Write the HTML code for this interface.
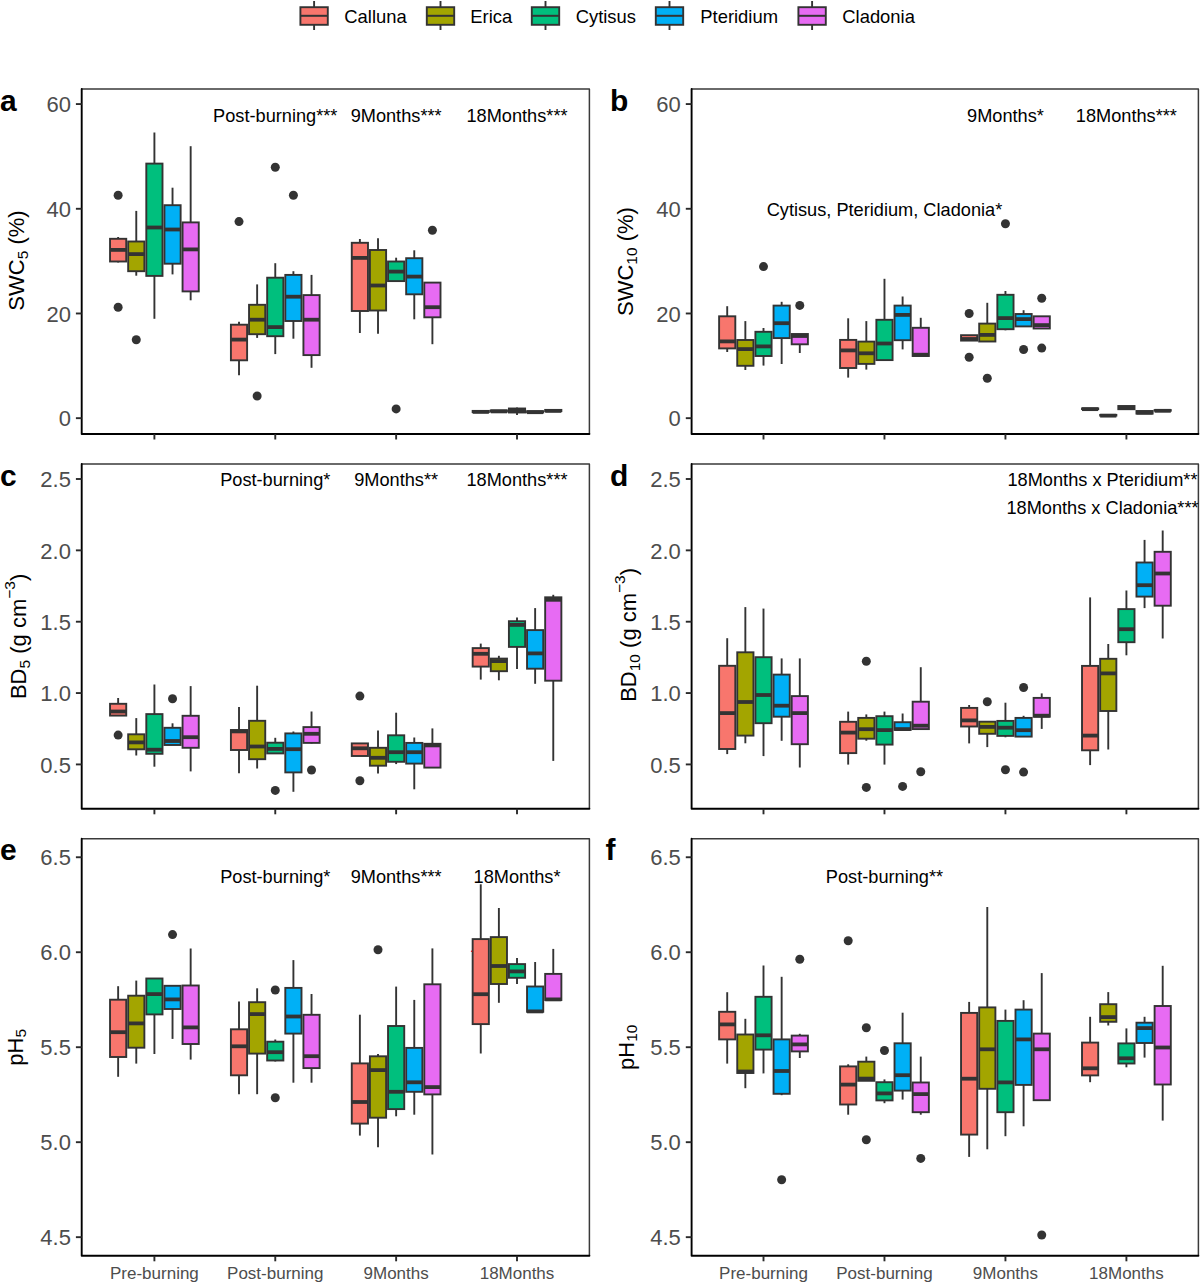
<!DOCTYPE html>
<html><head><meta charset="utf-8"><style>html,body{margin:0;padding:0;background:#fff;width:1200px;height:1284px;overflow:hidden}svg{display:block}</style></head><body>
<svg width="1200" height="1284" viewBox="0 0 1200 1284">
<style>
.wk{stroke:#333;stroke-width:1.9}
.bx{stroke:#333;stroke-width:1.9}
.md{stroke:#333;stroke-width:3.8}
.bt{stroke:#3a3a3a;stroke-width:1.5;fill:none;stroke-linejoin:round}
.ax{stroke:#000;stroke-width:1.9;fill:none;stroke-linecap:round;stroke-linejoin:round}
.tk{stroke:#2a2a2a;stroke-width:1.9}
text{font-family:"Liberation Sans",sans-serif}
.yt{font-size:22px;fill:#4d4d4d;text-anchor:end}
.xt{font-size:17px;fill:#4d4d4d;text-anchor:middle}
.pl{font-size:30px;font-weight:bold;fill:#000}
.yl{font-size:22px;fill:#000;text-anchor:middle}
.an{font-size:18.2px;fill:#000;text-anchor:middle}
.lg{font-size:18.4px;fill:#000}
</style>
<rect width="1200" height="1284" fill="#fff"/>
<line x1="118.14" y1="237" x2="118.14" y2="238.8" class="wk"/>
<line x1="118.14" y1="261.5" x2="118.14" y2="262.5" class="wk"/>
<rect x="110.04" y="238.8" width="16.2" height="22.7" fill="#F8766D" class="bx"/>
<line x1="110.04" y1="249.9" x2="126.24" y2="249.9" class="md"/>
<circle cx="118.14" cy="195.2" r="4.5" fill="#333333"/>
<circle cx="118.14" cy="307.3" r="4.5" fill="#333333"/>
<line x1="136.27" y1="210.9" x2="136.27" y2="241.5" class="wk"/>
<line x1="136.27" y1="271.2" x2="136.27" y2="275.7" class="wk"/>
<rect x="128.17" y="241.5" width="16.2" height="29.7" fill="#A3A500" class="bx"/>
<line x1="128.17" y1="254.1" x2="144.37" y2="254.1" class="md"/>
<circle cx="136.27" cy="339.7" r="4.5" fill="#333333"/>
<line x1="154.4" y1="132.5" x2="154.4" y2="163.6" class="wk"/>
<line x1="154.4" y1="275.9" x2="154.4" y2="318.8" class="wk"/>
<rect x="146.3" y="163.6" width="16.2" height="112.3" fill="#00BF7D" class="bx"/>
<line x1="146.3" y1="227.5" x2="162.5" y2="227.5" class="md"/>
<line x1="172.53" y1="187.7" x2="172.53" y2="205.2" class="wk"/>
<line x1="172.53" y1="263.7" x2="172.53" y2="274.4" class="wk"/>
<rect x="164.43" y="205.2" width="16.2" height="58.5" fill="#00B0F6" class="bx"/>
<line x1="164.43" y1="229.5" x2="180.63" y2="229.5" class="md"/>
<line x1="190.66" y1="146.2" x2="190.66" y2="222.4" class="wk"/>
<line x1="190.66" y1="291.4" x2="190.66" y2="300.3" class="wk"/>
<rect x="182.56" y="222.4" width="16.2" height="69" fill="#E76BF3" class="bx"/>
<line x1="182.56" y1="249.4" x2="198.76" y2="249.4" class="md"/>
<line x1="239.01" y1="321.7" x2="239.01" y2="324.7" class="wk"/>
<line x1="239.01" y1="360.3" x2="239.01" y2="375.3" class="wk"/>
<rect x="230.91" y="324.7" width="16.2" height="35.6" fill="#F8766D" class="bx"/>
<line x1="230.91" y1="339.6" x2="247.11" y2="339.6" class="md"/>
<circle cx="239.01" cy="221.6" r="4.5" fill="#333333"/>
<line x1="257.14" y1="284.4" x2="257.14" y2="304.8" class="wk"/>
<line x1="257.14" y1="334.2" x2="257.14" y2="337.9" class="wk"/>
<rect x="249.04" y="304.8" width="16.2" height="29.4" fill="#A3A500" class="bx"/>
<line x1="249.04" y1="319.7" x2="265.24" y2="319.7" class="md"/>
<circle cx="257.14" cy="396" r="4.5" fill="#333333"/>
<line x1="275.27" y1="263.2" x2="275.27" y2="277.7" class="wk"/>
<line x1="275.27" y1="336.2" x2="275.27" y2="354.1" class="wk"/>
<rect x="267.17" y="277.7" width="16.2" height="58.5" fill="#00BF7D" class="bx"/>
<line x1="267.17" y1="327.1" x2="283.37" y2="327.1" class="md"/>
<circle cx="275.27" cy="167.3" r="4.5" fill="#333333"/>
<line x1="293.4" y1="271.2" x2="293.4" y2="274.9" class="wk"/>
<line x1="293.4" y1="321" x2="293.4" y2="338.7" class="wk"/>
<rect x="285.3" y="274.9" width="16.2" height="46.1" fill="#00B0F6" class="bx"/>
<line x1="285.3" y1="296.7" x2="301.5" y2="296.7" class="md"/>
<circle cx="293.4" cy="195.2" r="4.5" fill="#333333"/>
<line x1="311.53" y1="274.9" x2="311.53" y2="295.1" class="wk"/>
<line x1="311.53" y1="355.1" x2="311.53" y2="367.8" class="wk"/>
<rect x="303.43" y="295.1" width="16.2" height="60" fill="#E76BF3" class="bx"/>
<line x1="303.43" y1="319.7" x2="319.63" y2="319.7" class="md"/>
<line x1="359.88" y1="239" x2="359.88" y2="242.8" class="wk"/>
<line x1="359.88" y1="311" x2="359.88" y2="333" class="wk"/>
<rect x="351.78" y="242.8" width="16.2" height="68.2" fill="#F8766D" class="bx"/>
<line x1="351.78" y1="257.9" x2="367.98" y2="257.9" class="md"/>
<line x1="378.01" y1="238.3" x2="378.01" y2="250" class="wk"/>
<line x1="378.01" y1="310.5" x2="378.01" y2="333.7" class="wk"/>
<rect x="369.91" y="250" width="16.2" height="60.5" fill="#A3A500" class="bx"/>
<line x1="369.91" y1="285.5" x2="386.11" y2="285.5" class="md"/>
<line x1="396.14" y1="257.7" x2="396.14" y2="261.5" class="wk"/>
<line x1="396.14" y1="281.1" x2="396.14" y2="281.9" class="wk"/>
<rect x="388.04" y="261.5" width="16.2" height="19.6" fill="#00BF7D" class="bx"/>
<line x1="388.04" y1="271.6" x2="404.24" y2="271.6" class="md"/>
<circle cx="396.14" cy="408.9" r="4.5" fill="#333333"/>
<line x1="414.27" y1="250.3" x2="414.27" y2="258.2" class="wk"/>
<line x1="414.27" y1="294.3" x2="414.27" y2="319.3" class="wk"/>
<rect x="406.17" y="258.2" width="16.2" height="36.1" fill="#00B0F6" class="bx"/>
<line x1="406.17" y1="276.6" x2="422.37" y2="276.6" class="md"/>
<line x1="432.4" y1="317.3" x2="432.4" y2="344.2" class="wk"/>
<rect x="424.3" y="282.6" width="16.2" height="34.7" fill="#E76BF3" class="bx"/>
<line x1="424.3" y1="307.2" x2="440.5" y2="307.2" class="md"/>
<circle cx="432.4" cy="230.3" r="4.5" fill="#333333"/>
<line x1="480.75" y1="410.5" x2="480.75" y2="410.9" class="wk"/>
<line x1="480.75" y1="412.1" x2="480.75" y2="412.5" class="wk"/>
<rect x="472.65" y="410.9" width="16.2" height="1.2" fill="#F8766D" class="bx"/>
<line x1="472.65" y1="411.9" x2="488.85" y2="411.9" class="md"/>
<line x1="498.88" y1="410" x2="498.88" y2="410.4" class="wk"/>
<line x1="498.88" y1="411.6" x2="498.88" y2="412" class="wk"/>
<rect x="490.78" y="410.4" width="16.2" height="1.2" fill="#A3A500" class="bx"/>
<line x1="490.78" y1="411.4" x2="506.98" y2="411.4" class="md"/>
<line x1="517.01" y1="407.5" x2="517.01" y2="408.5" class="wk"/>
<line x1="517.01" y1="412.5" x2="517.01" y2="415" class="wk"/>
<rect x="508.91" y="408.5" width="16.2" height="4" fill="#00BF7D" class="bx"/>
<line x1="508.91" y1="410.4" x2="525.11" y2="410.4" class="md"/>
<line x1="535.14" y1="411" x2="535.14" y2="411.2" class="wk"/>
<line x1="535.14" y1="412.4" x2="535.14" y2="412.6" class="wk"/>
<rect x="527.04" y="411.2" width="16.2" height="1.2" fill="#00B0F6" class="bx"/>
<line x1="527.04" y1="412.2" x2="543.24" y2="412.2" class="md"/>
<line x1="553.27" y1="409.5" x2="553.27" y2="409.9" class="wk"/>
<line x1="553.27" y1="411.1" x2="553.27" y2="411.5" class="wk"/>
<rect x="545.17" y="409.9" width="16.2" height="1.2" fill="#E76BF3" class="bx"/>
<line x1="545.17" y1="410.9" x2="561.37" y2="410.9" class="md"/>
<path d="M81.7 89H589.4V434" class="bt"/>
<path d="M81.7 89V434H589.4" class="ax"/>
<line x1="75.9" y1="418.17" x2="81.7" y2="418.17" class="tk"/>
<text x="70.9" y="426.37" class="yt">0</text>
<line x1="75.9" y1="313.47" x2="81.7" y2="313.47" class="tk"/>
<text x="70.9" y="321.67" class="yt">20</text>
<line x1="75.9" y1="208.78" x2="81.7" y2="208.78" class="tk"/>
<text x="70.9" y="216.98" class="yt">40</text>
<line x1="75.9" y1="104.08" x2="81.7" y2="104.08" class="tk"/>
<text x="70.9" y="112.28" class="yt">60</text>
<line x1="154.4" y1="434" x2="154.4" y2="439.5" class="tk"/>
<line x1="275.27" y1="434" x2="275.27" y2="439.5" class="tk"/>
<line x1="396.14" y1="434" x2="396.14" y2="439.5" class="tk"/>
<line x1="517.01" y1="434" x2="517.01" y2="439.5" class="tk"/>
<text x="0" y="110.5" class="pl">a</text>
<text transform="translate(24 260.5) rotate(-90)" class="yl">SWC<tspan font-size="15.5" dy="3.5">5</tspan><tspan dy="-3.5"> </tspan>(%)</text>
<text x="275.27" y="121.7" class="an">Post-burning***</text>
<text x="396.14" y="121.7" class="an">9Months***</text>
<text x="517.01" y="121.7" class="an">18Months***</text>
<line x1="727.21" y1="306.2" x2="727.21" y2="316.3" class="wk"/>
<line x1="727.21" y1="348.4" x2="727.21" y2="352" class="wk"/>
<rect x="719.11" y="316.3" width="16.2" height="32.1" fill="#F8766D" class="bx"/>
<line x1="719.11" y1="341.4" x2="735.31" y2="341.4" class="md"/>
<line x1="745.35" y1="321.1" x2="745.35" y2="340" class="wk"/>
<line x1="745.35" y1="365.8" x2="745.35" y2="370" class="wk"/>
<rect x="737.25" y="340" width="16.2" height="25.8" fill="#A3A500" class="bx"/>
<line x1="737.25" y1="349.1" x2="753.45" y2="349.1" class="md"/>
<line x1="763.5" y1="328" x2="763.5" y2="331.8" class="wk"/>
<line x1="763.5" y1="356" x2="763.5" y2="365.6" class="wk"/>
<rect x="755.4" y="331.8" width="16.2" height="24.2" fill="#00BF7D" class="bx"/>
<line x1="755.4" y1="346.4" x2="771.6" y2="346.4" class="md"/>
<circle cx="763.5" cy="266.6" r="4.5" fill="#333333"/>
<line x1="781.65" y1="301.8" x2="781.65" y2="305.6" class="wk"/>
<line x1="781.65" y1="338.1" x2="781.65" y2="364" class="wk"/>
<rect x="773.55" y="305.6" width="16.2" height="32.5" fill="#00B0F6" class="bx"/>
<line x1="773.55" y1="323.2" x2="789.75" y2="323.2" class="md"/>
<line x1="799.79" y1="344.3" x2="799.79" y2="353" class="wk"/>
<rect x="791.69" y="334" width="16.2" height="10.3" fill="#E76BF3" class="bx"/>
<line x1="791.69" y1="336" x2="807.89" y2="336" class="md"/>
<circle cx="799.79" cy="305.4" r="4.5" fill="#333333"/>
<line x1="848.18" y1="318.3" x2="848.18" y2="339.9" class="wk"/>
<line x1="848.18" y1="368" x2="848.18" y2="377.6" class="wk"/>
<rect x="840.08" y="339.9" width="16.2" height="28.1" fill="#F8766D" class="bx"/>
<line x1="840.08" y1="350.4" x2="856.28" y2="350.4" class="md"/>
<line x1="866.32" y1="321.1" x2="866.32" y2="341.6" class="wk"/>
<line x1="866.32" y1="363.9" x2="866.32" y2="369.6" class="wk"/>
<rect x="858.22" y="341.6" width="16.2" height="22.3" fill="#A3A500" class="bx"/>
<line x1="858.22" y1="353.3" x2="874.42" y2="353.3" class="md"/>
<line x1="884.47" y1="278.8" x2="884.47" y2="319.8" class="wk"/>
<line x1="884.47" y1="360.1" x2="884.47" y2="360.9" class="wk"/>
<rect x="876.37" y="319.8" width="16.2" height="40.3" fill="#00BF7D" class="bx"/>
<line x1="876.37" y1="343.5" x2="892.57" y2="343.5" class="md"/>
<line x1="902.62" y1="296.5" x2="902.62" y2="305.6" class="wk"/>
<line x1="902.62" y1="340.2" x2="902.62" y2="349.4" class="wk"/>
<rect x="894.52" y="305.6" width="16.2" height="34.6" fill="#00B0F6" class="bx"/>
<line x1="894.52" y1="314.9" x2="910.72" y2="314.9" class="md"/>
<line x1="920.76" y1="317.8" x2="920.76" y2="327.8" class="wk"/>
<rect x="912.66" y="327.8" width="16.2" height="28.2" fill="#E76BF3" class="bx"/>
<line x1="912.66" y1="354.7" x2="928.86" y2="354.7" class="md"/>
<rect x="961.05" y="335.2" width="16.2" height="5.4" fill="#F8766D" class="bx"/>
<line x1="961.05" y1="339" x2="977.25" y2="339" class="md"/>
<circle cx="969.15" cy="313.5" r="4.5" fill="#333333"/>
<circle cx="969.15" cy="357.2" r="4.5" fill="#333333"/>
<line x1="987.29" y1="302.8" x2="987.29" y2="323.6" class="wk"/>
<rect x="979.19" y="323.6" width="16.2" height="17.9" fill="#A3A500" class="bx"/>
<line x1="979.19" y1="334.9" x2="995.39" y2="334.9" class="md"/>
<circle cx="987.29" cy="378.2" r="4.5" fill="#333333"/>
<line x1="1005.44" y1="291" x2="1005.44" y2="294.8" class="wk"/>
<line x1="1005.44" y1="329.2" x2="1005.44" y2="330.3" class="wk"/>
<rect x="997.34" y="294.8" width="16.2" height="34.4" fill="#00BF7D" class="bx"/>
<line x1="997.34" y1="318.1" x2="1013.54" y2="318.1" class="md"/>
<circle cx="1005.44" cy="223.7" r="4.5" fill="#333333"/>
<line x1="1023.59" y1="310.2" x2="1023.59" y2="314" class="wk"/>
<rect x="1015.49" y="314" width="16.2" height="12.4" fill="#00B0F6" class="bx"/>
<line x1="1015.49" y1="319.1" x2="1031.69" y2="319.1" class="md"/>
<circle cx="1023.59" cy="349.5" r="4.5" fill="#333333"/>
<rect x="1033.63" y="316.3" width="16.2" height="12.2" fill="#E76BF3" class="bx"/>
<line x1="1033.63" y1="325.1" x2="1049.83" y2="325.1" class="md"/>
<circle cx="1041.73" cy="298.3" r="4.5" fill="#333333"/>
<circle cx="1041.73" cy="348.1" r="4.5" fill="#333333"/>
<line x1="1090.12" y1="408.2" x2="1090.12" y2="408.4" class="wk"/>
<line x1="1090.12" y1="409.1" x2="1090.12" y2="409.3" class="wk"/>
<rect x="1082.02" y="408.4" width="16.2" height="0.7" fill="#F8766D" class="bx"/>
<line x1="1082.02" y1="409.15" x2="1098.22" y2="409.15" class="md"/>
<line x1="1108.26" y1="414.7" x2="1108.26" y2="414.9" class="wk"/>
<line x1="1108.26" y1="415.6" x2="1108.26" y2="415.8" class="wk"/>
<rect x="1100.16" y="414.9" width="16.2" height="0.7" fill="#A3A500" class="bx"/>
<line x1="1100.16" y1="415.65" x2="1116.36" y2="415.65" class="md"/>
<line x1="1126.41" y1="405.8" x2="1126.41" y2="406" class="wk"/>
<line x1="1126.41" y1="409.2" x2="1126.41" y2="410" class="wk"/>
<rect x="1118.31" y="406" width="16.2" height="3.2" fill="#00BF7D" class="bx"/>
<line x1="1118.31" y1="407.9" x2="1134.51" y2="407.9" class="md"/>
<line x1="1144.56" y1="413.6" x2="1144.56" y2="414" class="wk"/>
<rect x="1136.46" y="411" width="16.2" height="2.6" fill="#00B0F6" class="bx"/>
<line x1="1136.46" y1="412.7" x2="1152.66" y2="412.7" class="md"/>
<line x1="1162.7" y1="409.9" x2="1162.7" y2="410.1" class="wk"/>
<line x1="1162.7" y1="410.7" x2="1162.7" y2="410.9" class="wk"/>
<rect x="1154.6" y="410.1" width="16.2" height="0.6" fill="#E76BF3" class="bx"/>
<line x1="1154.6" y1="410.8" x2="1170.8" y2="410.8" class="md"/>
<path d="M691.6 89H1198.4V434" class="bt"/>
<path d="M691.6 89V434H1198.4" class="ax"/>
<line x1="685.8" y1="418.17" x2="691.6" y2="418.17" class="tk"/>
<text x="680.8" y="426.37" class="yt">0</text>
<line x1="685.8" y1="313.47" x2="691.6" y2="313.47" class="tk"/>
<text x="680.8" y="321.67" class="yt">20</text>
<line x1="685.8" y1="208.78" x2="691.6" y2="208.78" class="tk"/>
<text x="680.8" y="216.98" class="yt">40</text>
<line x1="685.8" y1="104.08" x2="691.6" y2="104.08" class="tk"/>
<text x="680.8" y="112.28" class="yt">60</text>
<line x1="763.5" y1="434" x2="763.5" y2="439.5" class="tk"/>
<line x1="884.47" y1="434" x2="884.47" y2="439.5" class="tk"/>
<line x1="1005.44" y1="434" x2="1005.44" y2="439.5" class="tk"/>
<line x1="1126.41" y1="434" x2="1126.41" y2="439.5" class="tk"/>
<text x="610" y="110.5" class="pl">b</text>
<text transform="translate(633 261.5) rotate(-90)" class="yl">SWC<tspan font-size="15.5" dy="3.5">10</tspan><tspan dy="-3.5"> </tspan>(%)</text>
<text x="1005.44" y="121.7" class="an">9Months*</text>
<text x="1126.41" y="121.7" class="an">18Months***</text>
<text x="884.47" y="215.5" class="an">Cytisus, Pteridium, Cladonia*</text>
<line x1="118.14" y1="698" x2="118.14" y2="703.8" class="wk"/>
<rect x="110.04" y="703.8" width="16.2" height="11.8" fill="#F8766D" class="bx"/>
<line x1="110.04" y1="711.5" x2="126.24" y2="711.5" class="md"/>
<circle cx="118.14" cy="735.1" r="4.5" fill="#333333"/>
<line x1="136.27" y1="718.1" x2="136.27" y2="734.3" class="wk"/>
<line x1="136.27" y1="749.3" x2="136.27" y2="755.5" class="wk"/>
<rect x="128.17" y="734.3" width="16.2" height="15" fill="#A3A500" class="bx"/>
<line x1="128.17" y1="742.4" x2="144.37" y2="742.4" class="md"/>
<line x1="154.4" y1="684.5" x2="154.4" y2="714.1" class="wk"/>
<line x1="154.4" y1="753.8" x2="154.4" y2="766.7" class="wk"/>
<rect x="146.3" y="714.1" width="16.2" height="39.7" fill="#00BF7D" class="bx"/>
<line x1="146.3" y1="749.7" x2="162.5" y2="749.7" class="md"/>
<line x1="172.53" y1="723.3" x2="172.53" y2="727.8" class="wk"/>
<rect x="164.43" y="727.8" width="16.2" height="17.2" fill="#00B0F6" class="bx"/>
<line x1="164.43" y1="741" x2="180.63" y2="741" class="md"/>
<circle cx="172.53" cy="698.8" r="4.5" fill="#333333"/>
<line x1="190.66" y1="686.1" x2="190.66" y2="715.8" class="wk"/>
<line x1="190.66" y1="747.8" x2="190.66" y2="771.4" class="wk"/>
<rect x="182.56" y="715.8" width="16.2" height="32" fill="#E76BF3" class="bx"/>
<line x1="182.56" y1="737.2" x2="198.76" y2="737.2" class="md"/>
<line x1="239.01" y1="707.1" x2="239.01" y2="730" class="wk"/>
<line x1="239.01" y1="750" x2="239.01" y2="773.3" class="wk"/>
<rect x="230.91" y="730" width="16.2" height="20" fill="#F8766D" class="bx"/>
<line x1="230.91" y1="731.4" x2="247.11" y2="731.4" class="md"/>
<line x1="257.14" y1="685.7" x2="257.14" y2="720.8" class="wk"/>
<line x1="257.14" y1="759.2" x2="257.14" y2="768.5" class="wk"/>
<rect x="249.04" y="720.8" width="16.2" height="38.4" fill="#A3A500" class="bx"/>
<line x1="249.04" y1="746.5" x2="265.24" y2="746.5" class="md"/>
<line x1="275.27" y1="737.8" x2="275.27" y2="742.7" class="wk"/>
<rect x="267.17" y="742.7" width="16.2" height="10.7" fill="#00BF7D" class="bx"/>
<line x1="267.17" y1="748.9" x2="283.37" y2="748.9" class="md"/>
<circle cx="275.27" cy="790.4" r="4.5" fill="#333333"/>
<line x1="293.4" y1="731.5" x2="293.4" y2="733.4" class="wk"/>
<line x1="293.4" y1="772.4" x2="293.4" y2="791.8" class="wk"/>
<rect x="285.3" y="733.4" width="16.2" height="39" fill="#00B0F6" class="bx"/>
<line x1="285.3" y1="749.2" x2="301.5" y2="749.2" class="md"/>
<line x1="311.53" y1="711.5" x2="311.53" y2="727.1" class="wk"/>
<line x1="311.53" y1="742.9" x2="311.53" y2="743.5" class="wk"/>
<rect x="303.43" y="727.1" width="16.2" height="15.8" fill="#E76BF3" class="bx"/>
<line x1="303.43" y1="733.8" x2="319.63" y2="733.8" class="md"/>
<circle cx="311.53" cy="770" r="4.5" fill="#333333"/>
<rect x="351.78" y="743.4" width="16.2" height="12.6" fill="#F8766D" class="bx"/>
<line x1="351.78" y1="748.3" x2="367.98" y2="748.3" class="md"/>
<circle cx="359.88" cy="696.1" r="4.5" fill="#333333"/>
<circle cx="359.88" cy="780.7" r="4.5" fill="#333333"/>
<line x1="378.01" y1="730.5" x2="378.01" y2="747.8" class="wk"/>
<line x1="378.01" y1="765.7" x2="378.01" y2="773.5" class="wk"/>
<rect x="369.91" y="747.8" width="16.2" height="17.9" fill="#A3A500" class="bx"/>
<line x1="369.91" y1="757.8" x2="386.11" y2="757.8" class="md"/>
<line x1="396.14" y1="712.7" x2="396.14" y2="735.3" class="wk"/>
<line x1="396.14" y1="761.8" x2="396.14" y2="764.1" class="wk"/>
<rect x="388.04" y="735.3" width="16.2" height="26.5" fill="#00BF7D" class="bx"/>
<line x1="388.04" y1="752.2" x2="404.24" y2="752.2" class="md"/>
<line x1="414.27" y1="737.5" x2="414.27" y2="742.9" class="wk"/>
<line x1="414.27" y1="763.6" x2="414.27" y2="789.3" class="wk"/>
<rect x="406.17" y="742.9" width="16.2" height="20.7" fill="#00B0F6" class="bx"/>
<line x1="406.17" y1="752.2" x2="422.37" y2="752.2" class="md"/>
<line x1="432.4" y1="728.4" x2="432.4" y2="743.8" class="wk"/>
<rect x="424.3" y="743.8" width="16.2" height="23.8" fill="#E76BF3" class="bx"/>
<line x1="424.3" y1="745.4" x2="440.5" y2="745.4" class="md"/>
<line x1="480.75" y1="643.6" x2="480.75" y2="648.1" class="wk"/>
<line x1="480.75" y1="666.6" x2="480.75" y2="679.6" class="wk"/>
<rect x="472.65" y="648.1" width="16.2" height="18.5" fill="#F8766D" class="bx"/>
<line x1="472.65" y1="653.8" x2="488.85" y2="653.8" class="md"/>
<line x1="498.88" y1="655.8" x2="498.88" y2="658.6" class="wk"/>
<line x1="498.88" y1="671.2" x2="498.88" y2="680.3" class="wk"/>
<rect x="490.78" y="658.6" width="16.2" height="12.6" fill="#A3A500" class="bx"/>
<line x1="490.78" y1="661.1" x2="506.98" y2="661.1" class="md"/>
<line x1="517.01" y1="617.5" x2="517.01" y2="621.2" class="wk"/>
<line x1="517.01" y1="646.9" x2="517.01" y2="669.1" class="wk"/>
<rect x="508.91" y="621.2" width="16.2" height="25.7" fill="#00BF7D" class="bx"/>
<line x1="508.91" y1="624.9" x2="525.11" y2="624.9" class="md"/>
<line x1="535.14" y1="608.1" x2="535.14" y2="630.1" class="wk"/>
<line x1="535.14" y1="668.7" x2="535.14" y2="683.8" class="wk"/>
<rect x="527.04" y="630.1" width="16.2" height="38.6" fill="#00B0F6" class="bx"/>
<line x1="527.04" y1="653.4" x2="543.24" y2="653.4" class="md"/>
<line x1="553.27" y1="594.8" x2="553.27" y2="597.3" class="wk"/>
<line x1="553.27" y1="680.7" x2="553.27" y2="760.9" class="wk"/>
<rect x="545.17" y="597.3" width="16.2" height="83.4" fill="#E76BF3" class="bx"/>
<line x1="545.17" y1="599.8" x2="561.37" y2="599.8" class="md"/>
<path d="M81.7 464H589.4V808.8" class="bt"/>
<path d="M81.7 464V808.8H589.4" class="ax"/>
<line x1="75.9" y1="764.42" x2="81.7" y2="764.42" class="tk"/>
<text x="70.9" y="772.62" class="yt">0.5</text>
<line x1="75.9" y1="693.07" x2="81.7" y2="693.07" class="tk"/>
<text x="70.9" y="701.27" class="yt">1.0</text>
<line x1="75.9" y1="621.71" x2="81.7" y2="621.71" class="tk"/>
<text x="70.9" y="629.91" class="yt">1.5</text>
<line x1="75.9" y1="550.36" x2="81.7" y2="550.36" class="tk"/>
<text x="70.9" y="558.56" class="yt">2.0</text>
<line x1="75.9" y1="479" x2="81.7" y2="479" class="tk"/>
<text x="70.9" y="487.2" class="yt">2.5</text>
<line x1="154.4" y1="808.8" x2="154.4" y2="814.3" class="tk"/>
<line x1="275.27" y1="808.8" x2="275.27" y2="814.3" class="tk"/>
<line x1="396.14" y1="808.8" x2="396.14" y2="814.3" class="tk"/>
<line x1="517.01" y1="808.8" x2="517.01" y2="814.3" class="tk"/>
<text x="0" y="485.5" class="pl">c</text>
<text transform="translate(26 636.4) rotate(-90)" class="yl">BD<tspan font-size="15.5" dy="3.5">5</tspan><tspan dy="-3.5"> </tspan>(g cm<tspan font-size="15.5" dy="-11">−3</tspan><tspan dy="11">)</tspan></text>
<text x="275.27" y="486" class="an">Post-burning*</text>
<text x="396.14" y="486" class="an">9Months**</text>
<text x="517.01" y="486" class="an">18Months***</text>
<line x1="727.21" y1="638.2" x2="727.21" y2="665.8" class="wk"/>
<line x1="727.21" y1="749" x2="727.21" y2="754.1" class="wk"/>
<rect x="719.11" y="665.8" width="16.2" height="83.2" fill="#F8766D" class="bx"/>
<line x1="719.11" y1="713.1" x2="735.31" y2="713.1" class="md"/>
<line x1="745.35" y1="607.1" x2="745.35" y2="652.3" class="wk"/>
<line x1="745.35" y1="735.6" x2="745.35" y2="743.3" class="wk"/>
<rect x="737.25" y="652.3" width="16.2" height="83.3" fill="#A3A500" class="bx"/>
<line x1="737.25" y1="702" x2="753.45" y2="702" class="md"/>
<line x1="763.5" y1="608.6" x2="763.5" y2="657.2" class="wk"/>
<line x1="763.5" y1="723.2" x2="763.5" y2="756.1" class="wk"/>
<rect x="755.4" y="657.2" width="16.2" height="66" fill="#00BF7D" class="bx"/>
<line x1="755.4" y1="695" x2="771.6" y2="695" class="md"/>
<line x1="781.65" y1="658.4" x2="781.65" y2="674.6" class="wk"/>
<line x1="781.65" y1="716.7" x2="781.65" y2="740.8" class="wk"/>
<rect x="773.55" y="674.6" width="16.2" height="42.1" fill="#00B0F6" class="bx"/>
<line x1="773.55" y1="705.7" x2="789.75" y2="705.7" class="md"/>
<line x1="799.79" y1="658.4" x2="799.79" y2="696.1" class="wk"/>
<line x1="799.79" y1="744.2" x2="799.79" y2="767.5" class="wk"/>
<rect x="791.69" y="696.1" width="16.2" height="48.1" fill="#E76BF3" class="bx"/>
<line x1="791.69" y1="713.1" x2="807.89" y2="713.1" class="md"/>
<line x1="848.18" y1="711.6" x2="848.18" y2="721.8" class="wk"/>
<line x1="848.18" y1="753.1" x2="848.18" y2="764.6" class="wk"/>
<rect x="840.08" y="721.8" width="16.2" height="31.3" fill="#F8766D" class="bx"/>
<line x1="840.08" y1="732.6" x2="856.28" y2="732.6" class="md"/>
<line x1="866.32" y1="714.4" x2="866.32" y2="717.9" class="wk"/>
<line x1="866.32" y1="738.7" x2="866.32" y2="740.7" class="wk"/>
<rect x="858.22" y="717.9" width="16.2" height="20.8" fill="#A3A500" class="bx"/>
<line x1="858.22" y1="729.2" x2="874.42" y2="729.2" class="md"/>
<circle cx="866.32" cy="661.2" r="4.5" fill="#333333"/>
<circle cx="866.32" cy="787.4" r="4.5" fill="#333333"/>
<line x1="884.47" y1="711.6" x2="884.47" y2="716.2" class="wk"/>
<line x1="884.47" y1="744.6" x2="884.47" y2="764.6" class="wk"/>
<rect x="876.37" y="716.2" width="16.2" height="28.4" fill="#00BF7D" class="bx"/>
<line x1="876.37" y1="730.1" x2="892.57" y2="730.1" class="md"/>
<line x1="902.62" y1="713.5" x2="902.62" y2="722.2" class="wk"/>
<rect x="894.52" y="722.2" width="16.2" height="7.7" fill="#00B0F6" class="bx"/>
<line x1="894.52" y1="729.1" x2="910.72" y2="729.1" class="md"/>
<circle cx="902.62" cy="786.4" r="4.5" fill="#333333"/>
<line x1="920.76" y1="667.2" x2="920.76" y2="701.7" class="wk"/>
<rect x="912.66" y="701.7" width="16.2" height="27.4" fill="#E76BF3" class="bx"/>
<line x1="912.66" y1="725.7" x2="928.86" y2="725.7" class="md"/>
<circle cx="920.76" cy="771.8" r="4.5" fill="#333333"/>
<line x1="969.15" y1="705" x2="969.15" y2="707.9" class="wk"/>
<line x1="969.15" y1="726.5" x2="969.15" y2="743.4" class="wk"/>
<rect x="961.05" y="707.9" width="16.2" height="18.6" fill="#F8766D" class="bx"/>
<line x1="961.05" y1="720.4" x2="977.25" y2="720.4" class="md"/>
<line x1="987.29" y1="733.8" x2="987.29" y2="747.1" class="wk"/>
<rect x="979.19" y="721.7" width="16.2" height="12.1" fill="#A3A500" class="bx"/>
<line x1="979.19" y1="726.9" x2="995.39" y2="726.9" class="md"/>
<circle cx="987.29" cy="701.8" r="4.5" fill="#333333"/>
<line x1="1005.44" y1="702.7" x2="1005.44" y2="720.9" class="wk"/>
<line x1="1005.44" y1="735.9" x2="1005.44" y2="737.3" class="wk"/>
<rect x="997.34" y="720.9" width="16.2" height="15" fill="#00BF7D" class="bx"/>
<line x1="997.34" y1="727.7" x2="1013.54" y2="727.7" class="md"/>
<circle cx="1005.44" cy="769.8" r="4.5" fill="#333333"/>
<line x1="1023.59" y1="715.8" x2="1023.59" y2="717.9" class="wk"/>
<rect x="1015.49" y="717.9" width="16.2" height="18.7" fill="#00B0F6" class="bx"/>
<line x1="1015.49" y1="730.2" x2="1031.69" y2="730.2" class="md"/>
<circle cx="1023.59" cy="687.5" r="4.5" fill="#333333"/>
<circle cx="1023.59" cy="772.1" r="4.5" fill="#333333"/>
<line x1="1041.73" y1="693.4" x2="1041.73" y2="697.9" class="wk"/>
<line x1="1041.73" y1="716.7" x2="1041.73" y2="728.9" class="wk"/>
<rect x="1033.63" y="697.9" width="16.2" height="18.8" fill="#E76BF3" class="bx"/>
<line x1="1033.63" y1="715.7" x2="1049.83" y2="715.7" class="md"/>
<line x1="1090.12" y1="597.4" x2="1090.12" y2="665.9" class="wk"/>
<line x1="1090.12" y1="750.3" x2="1090.12" y2="765.1" class="wk"/>
<rect x="1082.02" y="665.9" width="16.2" height="84.4" fill="#F8766D" class="bx"/>
<line x1="1082.02" y1="735.6" x2="1098.22" y2="735.6" class="md"/>
<line x1="1108.26" y1="644" x2="1108.26" y2="658.8" class="wk"/>
<line x1="1108.26" y1="711" x2="1108.26" y2="749.5" class="wk"/>
<rect x="1100.16" y="658.8" width="16.2" height="52.2" fill="#A3A500" class="bx"/>
<line x1="1100.16" y1="673.4" x2="1116.36" y2="673.4" class="md"/>
<line x1="1126.41" y1="590.5" x2="1126.41" y2="609.1" class="wk"/>
<line x1="1126.41" y1="642.2" x2="1126.41" y2="655.3" class="wk"/>
<rect x="1118.31" y="609.1" width="16.2" height="33.1" fill="#00BF7D" class="bx"/>
<line x1="1118.31" y1="629.2" x2="1134.51" y2="629.2" class="md"/>
<line x1="1144.56" y1="539.9" x2="1144.56" y2="562.5" class="wk"/>
<line x1="1144.56" y1="596.6" x2="1144.56" y2="608.1" class="wk"/>
<rect x="1136.46" y="562.5" width="16.2" height="34.1" fill="#00B0F6" class="bx"/>
<line x1="1136.46" y1="585.2" x2="1152.66" y2="585.2" class="md"/>
<line x1="1162.7" y1="530.5" x2="1162.7" y2="551.8" class="wk"/>
<line x1="1162.7" y1="605.7" x2="1162.7" y2="638.5" class="wk"/>
<rect x="1154.6" y="551.8" width="16.2" height="53.9" fill="#E76BF3" class="bx"/>
<line x1="1154.6" y1="573.5" x2="1170.8" y2="573.5" class="md"/>
<path d="M691.6 464H1198.4V808.8" class="bt"/>
<path d="M691.6 464V808.8H1198.4" class="ax"/>
<line x1="685.8" y1="764.42" x2="691.6" y2="764.42" class="tk"/>
<text x="680.8" y="772.62" class="yt">0.5</text>
<line x1="685.8" y1="693.07" x2="691.6" y2="693.07" class="tk"/>
<text x="680.8" y="701.27" class="yt">1.0</text>
<line x1="685.8" y1="621.71" x2="691.6" y2="621.71" class="tk"/>
<text x="680.8" y="629.91" class="yt">1.5</text>
<line x1="685.8" y1="550.36" x2="691.6" y2="550.36" class="tk"/>
<text x="680.8" y="558.56" class="yt">2.0</text>
<line x1="685.8" y1="479" x2="691.6" y2="479" class="tk"/>
<text x="680.8" y="487.2" class="yt">2.5</text>
<line x1="763.5" y1="808.8" x2="763.5" y2="814.3" class="tk"/>
<line x1="884.47" y1="808.8" x2="884.47" y2="814.3" class="tk"/>
<line x1="1005.44" y1="808.8" x2="1005.44" y2="814.3" class="tk"/>
<line x1="1126.41" y1="808.8" x2="1126.41" y2="814.3" class="tk"/>
<text x="610" y="485.5" class="pl">d</text>
<text transform="translate(636 634.9) rotate(-90)" class="yl">BD<tspan font-size="15.5" dy="3.5">10</tspan><tspan dy="-3.5"> </tspan>(g cm<tspan font-size="15.5" dy="-11">−3</tspan><tspan dy="11">)</tspan></text>
<text x="1102.5" y="485.6" class="an">18Months x Pteridium**</text>
<text x="1102.5" y="514.4" class="an">18Months x Cladonia***</text>
<line x1="118.14" y1="986.2" x2="118.14" y2="999.7" class="wk"/>
<line x1="118.14" y1="1057" x2="118.14" y2="1076.8" class="wk"/>
<rect x="110.04" y="999.7" width="16.2" height="57.3" fill="#F8766D" class="bx"/>
<line x1="110.04" y1="1032.2" x2="126.24" y2="1032.2" class="md"/>
<line x1="136.27" y1="980.6" x2="136.27" y2="995.7" class="wk"/>
<line x1="136.27" y1="1047.7" x2="136.27" y2="1063.6" class="wk"/>
<rect x="128.17" y="995.7" width="16.2" height="52" fill="#A3A500" class="bx"/>
<line x1="128.17" y1="1023.4" x2="144.37" y2="1023.4" class="md"/>
<line x1="154.4" y1="1014.4" x2="154.4" y2="1054" class="wk"/>
<rect x="146.3" y="978.5" width="16.2" height="35.9" fill="#00BF7D" class="bx"/>
<line x1="146.3" y1="994.1" x2="162.5" y2="994.1" class="md"/>
<line x1="172.53" y1="1009" x2="172.53" y2="1038.9" class="wk"/>
<rect x="164.43" y="985.8" width="16.2" height="23.2" fill="#00B0F6" class="bx"/>
<line x1="164.43" y1="999.4" x2="180.63" y2="999.4" class="md"/>
<circle cx="172.53" cy="934.6" r="4.5" fill="#333333"/>
<line x1="190.66" y1="948.5" x2="190.66" y2="985.5" class="wk"/>
<line x1="190.66" y1="1044" x2="190.66" y2="1059.6" class="wk"/>
<rect x="182.56" y="985.5" width="16.2" height="58.5" fill="#E76BF3" class="bx"/>
<line x1="182.56" y1="1027.4" x2="198.76" y2="1027.4" class="md"/>
<line x1="239.01" y1="1001.5" x2="239.01" y2="1029.3" class="wk"/>
<line x1="239.01" y1="1075.3" x2="239.01" y2="1094.2" class="wk"/>
<rect x="230.91" y="1029.3" width="16.2" height="46" fill="#F8766D" class="bx"/>
<line x1="230.91" y1="1046.3" x2="247.11" y2="1046.3" class="md"/>
<line x1="257.14" y1="988.3" x2="257.14" y2="1002.2" class="wk"/>
<line x1="257.14" y1="1053.6" x2="257.14" y2="1094.2" class="wk"/>
<rect x="249.04" y="1002.2" width="16.2" height="51.4" fill="#A3A500" class="bx"/>
<line x1="249.04" y1="1014.1" x2="265.24" y2="1014.1" class="md"/>
<line x1="275.27" y1="1039.5" x2="275.27" y2="1041.7" class="wk"/>
<line x1="275.27" y1="1060.5" x2="275.27" y2="1061.5" class="wk"/>
<rect x="267.17" y="1041.7" width="16.2" height="18.8" fill="#00BF7D" class="bx"/>
<line x1="267.17" y1="1052.2" x2="283.37" y2="1052.2" class="md"/>
<circle cx="275.27" cy="990" r="4.5" fill="#333333"/>
<circle cx="275.27" cy="1097.8" r="4.5" fill="#333333"/>
<line x1="293.4" y1="960.1" x2="293.4" y2="987.9" class="wk"/>
<line x1="293.4" y1="1033.6" x2="293.4" y2="1082.7" class="wk"/>
<rect x="285.3" y="987.9" width="16.2" height="45.7" fill="#00B0F6" class="bx"/>
<line x1="285.3" y1="1016.5" x2="301.5" y2="1016.5" class="md"/>
<line x1="311.53" y1="994" x2="311.53" y2="1014.8" class="wk"/>
<line x1="311.53" y1="1068.1" x2="311.53" y2="1082.7" class="wk"/>
<rect x="303.43" y="1014.8" width="16.2" height="53.3" fill="#E76BF3" class="bx"/>
<line x1="303.43" y1="1056.2" x2="319.63" y2="1056.2" class="md"/>
<line x1="359.88" y1="1014.7" x2="359.88" y2="1063.4" class="wk"/>
<line x1="359.88" y1="1123.6" x2="359.88" y2="1135.6" class="wk"/>
<rect x="351.78" y="1063.4" width="16.2" height="60.2" fill="#F8766D" class="bx"/>
<line x1="351.78" y1="1102" x2="367.98" y2="1102" class="md"/>
<line x1="378.01" y1="1054.1" x2="378.01" y2="1056.3" class="wk"/>
<line x1="378.01" y1="1117.7" x2="378.01" y2="1147.3" class="wk"/>
<rect x="369.91" y="1056.3" width="16.2" height="61.4" fill="#A3A500" class="bx"/>
<line x1="369.91" y1="1070.1" x2="386.11" y2="1070.1" class="md"/>
<circle cx="378.01" cy="949.7" r="4.5" fill="#333333"/>
<line x1="396.14" y1="986.6" x2="396.14" y2="1026" class="wk"/>
<line x1="396.14" y1="1109.1" x2="396.14" y2="1116.3" class="wk"/>
<rect x="388.04" y="1026" width="16.2" height="83.1" fill="#00BF7D" class="bx"/>
<line x1="388.04" y1="1091.8" x2="404.24" y2="1091.8" class="md"/>
<line x1="414.27" y1="999.9" x2="414.27" y2="1047.9" class="wk"/>
<line x1="414.27" y1="1091.8" x2="414.27" y2="1114.7" class="wk"/>
<rect x="406.17" y="1047.9" width="16.2" height="43.9" fill="#00B0F6" class="bx"/>
<line x1="406.17" y1="1082.3" x2="422.37" y2="1082.3" class="md"/>
<line x1="432.4" y1="948.4" x2="432.4" y2="984.3" class="wk"/>
<line x1="432.4" y1="1094.4" x2="432.4" y2="1154.5" class="wk"/>
<rect x="424.3" y="984.3" width="16.2" height="110.1" fill="#E76BF3" class="bx"/>
<line x1="424.3" y1="1087.1" x2="440.5" y2="1087.1" class="md"/>
<line x1="480.75" y1="884.3" x2="480.75" y2="939.1" class="wk"/>
<line x1="480.75" y1="1024.1" x2="480.75" y2="1053.5" class="wk"/>
<rect x="472.65" y="939.1" width="16.2" height="85" fill="#F8766D" class="bx"/>
<line x1="472.65" y1="994.2" x2="488.85" y2="994.2" class="md"/>
<line x1="498.88" y1="908" x2="498.88" y2="937.1" class="wk"/>
<line x1="498.88" y1="984" x2="498.88" y2="1002.8" class="wk"/>
<rect x="490.78" y="937.1" width="16.2" height="46.9" fill="#A3A500" class="bx"/>
<line x1="490.78" y1="966" x2="506.98" y2="966" class="md"/>
<line x1="517.01" y1="957.9" x2="517.01" y2="964.1" class="wk"/>
<line x1="517.01" y1="977.8" x2="517.01" y2="984" class="wk"/>
<rect x="508.91" y="964.1" width="16.2" height="13.7" fill="#00BF7D" class="bx"/>
<line x1="508.91" y1="971.4" x2="525.11" y2="971.4" class="md"/>
<line x1="535.14" y1="962" x2="535.14" y2="986.5" class="wk"/>
<rect x="527.04" y="986.5" width="16.2" height="25.3" fill="#00B0F6" class="bx"/>
<line x1="527.04" y1="1011.4" x2="543.24" y2="1011.4" class="md"/>
<line x1="553.27" y1="948.9" x2="553.27" y2="973.9" class="wk"/>
<rect x="545.17" y="973.9" width="16.2" height="26.1" fill="#E76BF3" class="bx"/>
<line x1="545.17" y1="999.4" x2="561.37" y2="999.4" class="md"/>
<path d="M81.7 838.8H589.4V1255.8" class="bt"/>
<path d="M81.7 838.8V1255.8H589.4" class="ax"/>
<line x1="75.9" y1="1237.17" x2="81.7" y2="1237.17" class="tk"/>
<text x="70.9" y="1245.37" class="yt">4.5</text>
<line x1="75.9" y1="1142.19" x2="81.7" y2="1142.19" class="tk"/>
<text x="70.9" y="1150.39" class="yt">5.0</text>
<line x1="75.9" y1="1047.21" x2="81.7" y2="1047.21" class="tk"/>
<text x="70.9" y="1055.41" class="yt">5.5</text>
<line x1="75.9" y1="952.23" x2="81.7" y2="952.23" class="tk"/>
<text x="70.9" y="960.43" class="yt">6.0</text>
<line x1="75.9" y1="857.25" x2="81.7" y2="857.25" class="tk"/>
<text x="70.9" y="865.45" class="yt">6.5</text>
<line x1="154.4" y1="1255.8" x2="154.4" y2="1261.3" class="tk"/>
<line x1="275.27" y1="1255.8" x2="275.27" y2="1261.3" class="tk"/>
<line x1="396.14" y1="1255.8" x2="396.14" y2="1261.3" class="tk"/>
<line x1="517.01" y1="1255.8" x2="517.01" y2="1261.3" class="tk"/>
<text x="154.4" y="1279.4" class="xt">Pre-burning</text>
<text x="275.27" y="1279.4" class="xt">Post-burning</text>
<text x="396.14" y="1279.4" class="xt">9Months</text>
<text x="517.01" y="1279.4" class="xt">18Months</text>
<text x="0" y="860.3" class="pl">e</text>
<text transform="translate(22.5 1047.3) rotate(-90)" class="yl">pH<tspan font-size="15.5" dy="3.5">5</tspan></text>
<text x="275.27" y="882.7" class="an">Post-burning*</text>
<text x="396.14" y="882.7" class="an">9Months***</text>
<text x="517.01" y="882.7" class="an">18Months*</text>
<line x1="727.21" y1="992.2" x2="727.21" y2="1011.8" class="wk"/>
<line x1="727.21" y1="1039.4" x2="727.21" y2="1063.6" class="wk"/>
<rect x="719.11" y="1011.8" width="16.2" height="27.6" fill="#F8766D" class="bx"/>
<line x1="719.11" y1="1024.4" x2="735.31" y2="1024.4" class="md"/>
<line x1="745.35" y1="1018.8" x2="745.35" y2="1034.5" class="wk"/>
<line x1="745.35" y1="1073" x2="745.35" y2="1088.2" class="wk"/>
<rect x="737.25" y="1034.5" width="16.2" height="38.5" fill="#A3A500" class="bx"/>
<line x1="737.25" y1="1071.5" x2="753.45" y2="1071.5" class="md"/>
<line x1="763.5" y1="965.5" x2="763.5" y2="996.8" class="wk"/>
<line x1="763.5" y1="1049.6" x2="763.5" y2="1073.4" class="wk"/>
<rect x="755.4" y="996.8" width="16.2" height="52.8" fill="#00BF7D" class="bx"/>
<line x1="755.4" y1="1035.3" x2="771.6" y2="1035.3" class="md"/>
<line x1="781.65" y1="976.8" x2="781.65" y2="1039.4" class="wk"/>
<line x1="781.65" y1="1093.8" x2="781.65" y2="1095.2" class="wk"/>
<rect x="773.55" y="1039.4" width="16.2" height="54.4" fill="#00B0F6" class="bx"/>
<line x1="773.55" y1="1071" x2="789.75" y2="1071" class="md"/>
<circle cx="781.65" cy="1179.8" r="4.5" fill="#333333"/>
<line x1="799.79" y1="1033.8" x2="799.79" y2="1035.6" class="wk"/>
<line x1="799.79" y1="1051.4" x2="799.79" y2="1058" class="wk"/>
<rect x="791.69" y="1035.6" width="16.2" height="15.8" fill="#E76BF3" class="bx"/>
<line x1="791.69" y1="1044.4" x2="807.89" y2="1044.4" class="md"/>
<circle cx="799.79" cy="959.2" r="4.5" fill="#333333"/>
<line x1="848.18" y1="1064.3" x2="848.18" y2="1066.4" class="wk"/>
<line x1="848.18" y1="1104.5" x2="848.18" y2="1114.7" class="wk"/>
<rect x="840.08" y="1066.4" width="16.2" height="38.1" fill="#F8766D" class="bx"/>
<line x1="840.08" y1="1084.6" x2="856.28" y2="1084.6" class="md"/>
<circle cx="848.18" cy="940.8" r="4.5" fill="#333333"/>
<line x1="866.32" y1="1056.6" x2="866.32" y2="1061.7" class="wk"/>
<rect x="858.22" y="1061.7" width="16.2" height="19.1" fill="#A3A500" class="bx"/>
<line x1="858.22" y1="1078.6" x2="874.42" y2="1078.6" class="md"/>
<circle cx="866.32" cy="1027.8" r="4.5" fill="#333333"/>
<circle cx="866.32" cy="1139.7" r="4.5" fill="#333333"/>
<line x1="884.47" y1="1079.4" x2="884.47" y2="1082.2" class="wk"/>
<line x1="884.47" y1="1100.4" x2="884.47" y2="1103.2" class="wk"/>
<rect x="876.37" y="1082.2" width="16.2" height="18.2" fill="#00BF7D" class="bx"/>
<line x1="876.37" y1="1093.4" x2="892.57" y2="1093.4" class="md"/>
<circle cx="884.47" cy="1050.5" r="4.5" fill="#333333"/>
<line x1="902.62" y1="1012.7" x2="902.62" y2="1043.3" class="wk"/>
<line x1="902.62" y1="1090.6" x2="902.62" y2="1099.6" class="wk"/>
<rect x="894.52" y="1043.3" width="16.2" height="47.3" fill="#00B0F6" class="bx"/>
<line x1="894.52" y1="1075.2" x2="910.72" y2="1075.2" class="md"/>
<line x1="920.76" y1="1056.6" x2="920.76" y2="1082.5" class="wk"/>
<line x1="920.76" y1="1112.2" x2="920.76" y2="1114.7" class="wk"/>
<rect x="912.66" y="1082.5" width="16.2" height="29.7" fill="#E76BF3" class="bx"/>
<line x1="912.66" y1="1094.1" x2="928.86" y2="1094.1" class="md"/>
<circle cx="920.76" cy="1158.4" r="4.5" fill="#333333"/>
<line x1="969.15" y1="1001.9" x2="969.15" y2="1012.9" class="wk"/>
<line x1="969.15" y1="1134.6" x2="969.15" y2="1156.9" class="wk"/>
<rect x="961.05" y="1012.9" width="16.2" height="121.7" fill="#F8766D" class="bx"/>
<line x1="961.05" y1="1078.7" x2="977.25" y2="1078.7" class="md"/>
<line x1="987.29" y1="907" x2="987.29" y2="1007.4" class="wk"/>
<line x1="987.29" y1="1088.8" x2="987.29" y2="1149.3" class="wk"/>
<rect x="979.19" y="1007.4" width="16.2" height="81.4" fill="#A3A500" class="bx"/>
<line x1="979.19" y1="1049.3" x2="995.39" y2="1049.3" class="md"/>
<line x1="1005.44" y1="1009.6" x2="1005.44" y2="1020.9" class="wk"/>
<line x1="1005.44" y1="1112.2" x2="1005.44" y2="1136.2" class="wk"/>
<rect x="997.34" y="1020.9" width="16.2" height="91.3" fill="#00BF7D" class="bx"/>
<line x1="997.34" y1="1082.4" x2="1013.54" y2="1082.4" class="md"/>
<line x1="1023.59" y1="1000.2" x2="1023.59" y2="1009.6" class="wk"/>
<line x1="1023.59" y1="1084.9" x2="1023.59" y2="1126.3" class="wk"/>
<rect x="1015.49" y="1009.6" width="16.2" height="75.3" fill="#00B0F6" class="bx"/>
<line x1="1015.49" y1="1039.4" x2="1031.69" y2="1039.4" class="md"/>
<line x1="1041.73" y1="973.1" x2="1041.73" y2="1033.6" class="wk"/>
<rect x="1033.63" y="1033.6" width="16.2" height="66.6" fill="#E76BF3" class="bx"/>
<line x1="1033.63" y1="1049.3" x2="1049.83" y2="1049.3" class="md"/>
<circle cx="1041.73" cy="1235" r="4.5" fill="#333333"/>
<line x1="1090.12" y1="1016.8" x2="1090.12" y2="1042.6" class="wk"/>
<line x1="1090.12" y1="1075.4" x2="1090.12" y2="1082.2" class="wk"/>
<rect x="1082.02" y="1042.6" width="16.2" height="32.8" fill="#F8766D" class="bx"/>
<line x1="1082.02" y1="1068.3" x2="1098.22" y2="1068.3" class="md"/>
<line x1="1108.26" y1="992.1" x2="1108.26" y2="1004.2" class="wk"/>
<line x1="1108.26" y1="1021.8" x2="1108.26" y2="1025.5" class="wk"/>
<rect x="1100.16" y="1004.2" width="16.2" height="17.6" fill="#A3A500" class="bx"/>
<line x1="1100.16" y1="1017.1" x2="1116.36" y2="1017.1" class="md"/>
<line x1="1126.41" y1="1028.4" x2="1126.41" y2="1043.4" class="wk"/>
<line x1="1126.41" y1="1063.5" x2="1126.41" y2="1067.3" class="wk"/>
<rect x="1118.31" y="1043.4" width="16.2" height="20.1" fill="#00BF7D" class="bx"/>
<line x1="1118.31" y1="1058.3" x2="1134.51" y2="1058.3" class="md"/>
<line x1="1144.56" y1="1016.8" x2="1144.56" y2="1022.7" class="wk"/>
<line x1="1144.56" y1="1043" x2="1144.56" y2="1057.6" class="wk"/>
<rect x="1136.46" y="1022.7" width="16.2" height="20.3" fill="#00B0F6" class="bx"/>
<line x1="1136.46" y1="1028.1" x2="1152.66" y2="1028.1" class="md"/>
<line x1="1162.7" y1="965.8" x2="1162.7" y2="1006" class="wk"/>
<line x1="1162.7" y1="1084.5" x2="1162.7" y2="1120.6" class="wk"/>
<rect x="1154.6" y="1006" width="16.2" height="78.5" fill="#E76BF3" class="bx"/>
<line x1="1154.6" y1="1047.5" x2="1170.8" y2="1047.5" class="md"/>
<path d="M691.6 838.8H1198.4V1255.8" class="bt"/>
<path d="M691.6 838.8V1255.8H1198.4" class="ax"/>
<line x1="685.8" y1="1237.17" x2="691.6" y2="1237.17" class="tk"/>
<text x="680.8" y="1245.37" class="yt">4.5</text>
<line x1="685.8" y1="1142.19" x2="691.6" y2="1142.19" class="tk"/>
<text x="680.8" y="1150.39" class="yt">5.0</text>
<line x1="685.8" y1="1047.21" x2="691.6" y2="1047.21" class="tk"/>
<text x="680.8" y="1055.41" class="yt">5.5</text>
<line x1="685.8" y1="952.23" x2="691.6" y2="952.23" class="tk"/>
<text x="680.8" y="960.43" class="yt">6.0</text>
<line x1="685.8" y1="857.25" x2="691.6" y2="857.25" class="tk"/>
<text x="680.8" y="865.45" class="yt">6.5</text>
<line x1="763.5" y1="1255.8" x2="763.5" y2="1261.3" class="tk"/>
<line x1="884.47" y1="1255.8" x2="884.47" y2="1261.3" class="tk"/>
<line x1="1005.44" y1="1255.8" x2="1005.44" y2="1261.3" class="tk"/>
<line x1="1126.41" y1="1255.8" x2="1126.41" y2="1261.3" class="tk"/>
<text x="763.5" y="1279.4" class="xt">Pre-burning</text>
<text x="884.47" y="1279.4" class="xt">Post-burning</text>
<text x="1005.44" y="1279.4" class="xt">9Months</text>
<text x="1126.41" y="1279.4" class="xt">18Months</text>
<text x="605.5" y="860.3" class="pl">f</text>
<text transform="translate(633.5 1047.3) rotate(-90)" class="yl">pH<tspan font-size="15.5" dy="3.5">10</tspan></text>
<text x="884.47" y="882.7" class="an">Post-burning**</text>
<line x1="314.1" y1="1" x2="314.1" y2="30" class="wk"/>
<rect x="300.4" y="7.2" width="27.4" height="17.6" fill="#F8766D" class="bx"/>
<line x1="300.4" y1="15.8" x2="327.8" y2="15.8" class="wk" style="stroke-width:2"/>
<text x="344.3" y="23" class="lg">Calluna</text>
<line x1="440.5" y1="1" x2="440.5" y2="30" class="wk"/>
<rect x="426.8" y="7.2" width="27.4" height="17.6" fill="#A3A500" class="bx"/>
<line x1="426.8" y1="15.8" x2="454.2" y2="15.8" class="wk" style="stroke-width:2"/>
<text x="470.3" y="23" class="lg">Erica</text>
<line x1="545.5" y1="1" x2="545.5" y2="30" class="wk"/>
<rect x="531.8" y="7.2" width="27.4" height="17.6" fill="#00BF7D" class="bx"/>
<line x1="531.8" y1="15.8" x2="559.2" y2="15.8" class="wk" style="stroke-width:2"/>
<text x="575.7" y="23" class="lg">Cytisus</text>
<line x1="669.5" y1="1" x2="669.5" y2="30" class="wk"/>
<rect x="655.8" y="7.2" width="27.4" height="17.6" fill="#00B0F6" class="bx"/>
<line x1="655.8" y1="15.8" x2="683.2" y2="15.8" class="wk" style="stroke-width:2"/>
<text x="700.3" y="23" class="lg">Pteridium</text>
<line x1="812.1" y1="1" x2="812.1" y2="30" class="wk"/>
<rect x="798.4" y="7.2" width="27.4" height="17.6" fill="#E76BF3" class="bx"/>
<line x1="798.4" y1="15.8" x2="825.8" y2="15.8" class="wk" style="stroke-width:2"/>
<text x="842.3" y="23" class="lg">Cladonia</text>
<circle cx="471.6" cy="951.3" r="0.8" fill="#e01010"/>
</svg>
</body></html>
